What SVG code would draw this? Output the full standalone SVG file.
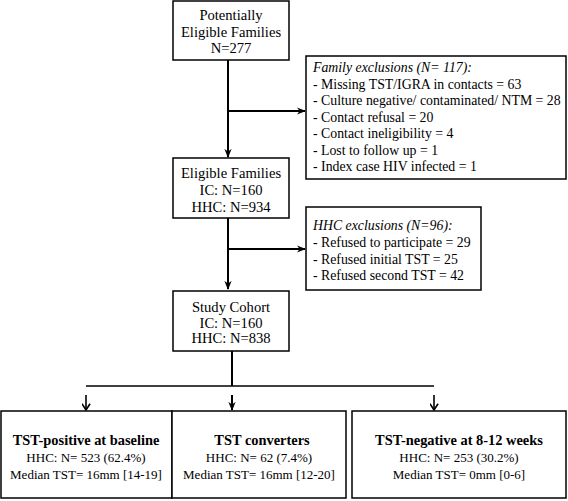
<svg xmlns="http://www.w3.org/2000/svg" width="568" height="501" viewBox="0 0 568 501">
<style>
.box{fill:#fff;stroke:#000;stroke-width:1.5}
.t{font-family:"Liberation Serif","DejaVu Serif",serif;font-size:13px;fill:#000}
.m{font-size:14.6px}
.e{font-size:13.8px}
.c{text-anchor:middle}
.b{font-weight:bold;font-size:14.4px}
.i{font-style:italic}
.ln{stroke:#000;stroke-width:2;fill:none}
.thin{stroke:#000;stroke-width:1.6;fill:none}
</style>
<defs>
<marker id="ah" viewBox="0 0 10 10" refX="9" refY="5" markerWidth="9" markerHeight="9" orient="auto" markerUnits="userSpaceOnUse">
<path d="M0,1 L10,5 L0,9 L3,5 z" fill="#000"/>
</marker>
<marker id="sh" viewBox="0 0 10 10" refX="9" refY="5" markerWidth="9" markerHeight="9" orient="auto" markerUnits="userSpaceOnUse">
<path d="M2,0.5 L9,5 L2,9.5" fill="none" stroke="#000" stroke-width="1.8"/>
</marker>
</defs>
<rect width="568" height="501" fill="#fff"/>
<g id="connectors">
<line class="ln" x1="228" y1="60" x2="228" y2="157" marker-end="url(#ah)"/>
<line class="ln" x1="228" y1="111" x2="305" y2="111" marker-end="url(#ah)"/>
<line class="ln" x1="228" y1="218" x2="228" y2="289" marker-end="url(#ah)"/>
<line class="ln" x1="228" y1="249" x2="305" y2="249" marker-end="url(#ah)"/>
<line class="ln" x1="232" y1="351" x2="232" y2="386"/>
<line class="thin" x1="86" y1="386" x2="434" y2="386"/>
<line class="thin" x1="86" y1="395" x2="86" y2="410" marker-end="url(#sh)"/>
<line class="ln" x1="232" y1="395" x2="232" y2="410" marker-end="url(#ah)"/>
<line class="thin" x1="434" y1="395" x2="434" y2="410" marker-end="url(#sh)"/>
</g>
<g id="potential">
<rect class="box" x="173" y="1" width="116" height="59"/>
<text class="t m c" x="231" y="20">Potentially</text>
<text class="t m c" x="231" y="37">Eligible Families</text>
<text class="t m c" x="231" y="53">N=277</text>
</g>
<g id="family-exclusions">
<rect class="box" x="306" y="56" width="260" height="123"/>
<text class="t e i" x="313" y="72">Family exclusions (N= 117):</text>
<text class="t e" x="313" y="88.5">- Missing TST/IGRA in contacts = 63</text>
<text class="t e" x="313" y="105">- Culture negative/ contaminated/ NTM = 28</text>
<text class="t e" x="313" y="121.5">- Contact refusal = 20</text>
<text class="t e" x="313" y="138">- Contact ineligibility = 4</text>
<text class="t e" x="313" y="154.5">- Lost to follow up = 1</text>
<text class="t e" x="313" y="171">- Index case HIV infected = 1</text>
</g>
<g id="eligible">
<rect class="box" x="173" y="158" width="116" height="60"/>
<text class="t m c" x="231" y="178">Eligible Families</text>
<text class="t m c" x="231" y="195">IC: N=160</text>
<text class="t m c" x="231" y="212">HHC: N=934</text>
</g>
<g id="hhc-exclusions">
<rect class="box" x="306" y="207" width="175" height="83"/>
<text class="t e i" x="313" y="230">HHC exclusions (N=96):</text>
<text class="t e" x="313" y="247">- Refused to participate = 29</text>
<text class="t e" x="313" y="264">- Refused initial TST = 25</text>
<text class="t e" x="313" y="280">- Refused second TST = 42</text>
</g>
<g id="cohort">
<rect class="box" x="173" y="291" width="116" height="60"/>
<text class="t m c" x="231" y="312">Study Cohort</text>
<text class="t m c" x="231" y="328">IC: N=160</text>
<text class="t m c" x="231" y="343">HHC: N=838</text>
</g>
<g id="positive">
<rect class="box" x="1" y="411" width="171" height="87"/>
<text class="t c b" x="86" y="445">TST-positive at baseline</text>
<text class="t c" x="86" y="462">HHC: N= 523 (62.4%)</text>
<text class="t c" x="86" y="479">Median TST= 16mm [14-19]</text>
</g>
<g id="converters">
<rect class="box" x="172" y="411" width="174" height="87"/>
<text class="t c b" x="262" y="445">TST converters</text>
<text class="t c" x="259" y="462">HHC: N= 62 (7.4%)</text>
<text class="t c" x="259" y="479">Median TST= 16mm [12-20]</text>
</g>
<g id="negative">
<rect class="box" x="352" y="411" width="214" height="87"/>
<text class="t c b" x="459" y="445">TST-negative at 8-12 weeks</text>
<text class="t c" x="459" y="462">HHC: N= 253 (30.2%)</text>
<text class="t c" x="459" y="479">Median TST= 0mm [0-6]</text>
</g>
</svg>
